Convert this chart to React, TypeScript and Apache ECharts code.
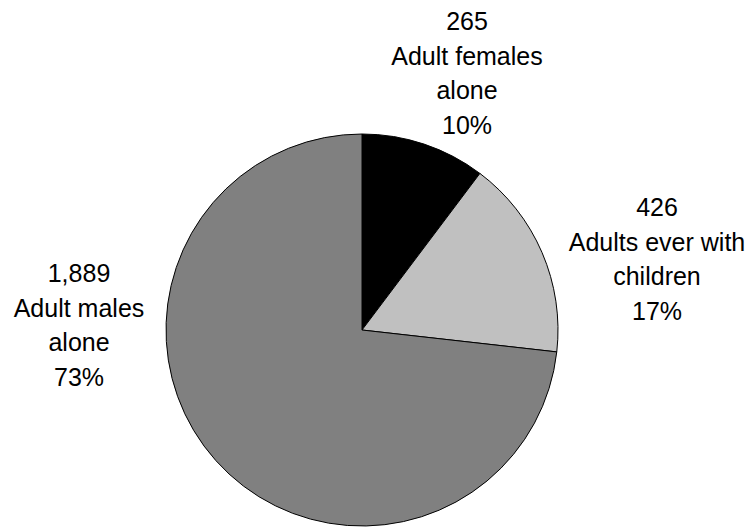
import React, { useEffect, useRef } from "react";
import * as echarts from "echarts";

// Household composition counts
const categories = ["Adult females\nalone", "Adults ever with\nchildren", "Adult males\nalone"];
const counts = [265, 426, 1889];
const sliceColors = ["#000000", "#c0c0c0", "#808080"];
// Label block centres (px) for each slice
const labelCentres: [number, number][] = [
  [467, 73],
  [657, 259],
  [79, 325],
];

export default function App() {
  const ref = useRef<HTMLDivElement>(null);

  useEffect(() => {
    if (!ref.current) return;
    const chart = echarts.init(ref.current, null, { renderer: "svg" });
    chart.setOption({
      animation: false,
      backgroundColor: "#ffffff",
      series: [
        {
          type: "pie",
          center: [362, 330],
          radius: 196,
          startAngle: 90,
          clockwise: true,
          avoidLabelOverlap: false,
          silent: true,
          itemStyle: { borderColor: "#000000", borderWidth: 1 },
          label: {
            show: true,
            position: "outside",
            color: "#000000",
            fontFamily: "'Liberation Sans', Arial, sans-serif",
            fontSize: 25,
            lineHeight: 34.5,
            align: "center",
            formatter: (p: any) =>
              `${p.value.toLocaleString("en-US")}\n${p.name}\n${Math.round(p.percent)}%`,
          },
          labelLine: { show: false },
          labelLayout: (p: any) => {
            const [x, y] = labelCentres[p.dataIndex];
            return { x, y, align: "center", verticalAlign: "middle" };
          },
          data: categories.map((name, i) => ({
            name,
            value: counts[i],
            itemStyle: { color: sliceColors[i] },
          })),
        },
      ],
    });
    return () => chart.dispose();
  }, []);

  return (
    <div
      ref={ref}
      style={{ position: "fixed", left: 0, top: 0, width: 753, height: 527 }}
    />
  );
}
